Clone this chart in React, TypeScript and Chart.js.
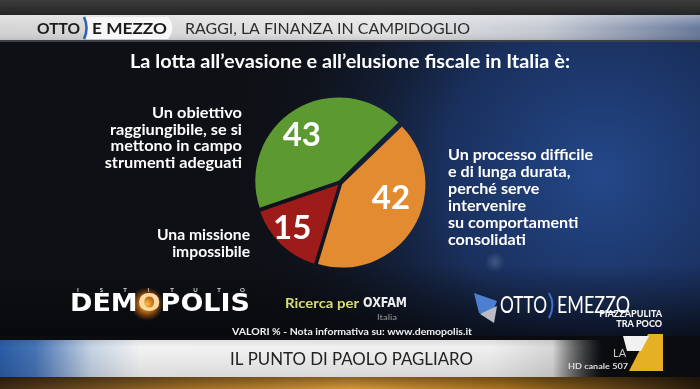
import React, { useEffect, useRef } from 'react';
import { Chart, registerables } from 'chart.js';

Chart.register(...registerables);

// ---------- data ----------
const categories = [
  'Un obiettivo raggiungibile, se si mettono in campo strumenti adeguati',
  'Un processo difficile e di lunga durata, perché serve intervenire su comportamenti consolidati',
  'Una missione impossibile',
];
const categoryLines = [
  ['Un obiettivo', 'raggiungibile, se si', 'mettono in campo', 'strumenti adeguati'],
  ['Un processo difficile', 'e di lunga durata,', 'perché serve', 'intervenire', 'su comportamenti', 'consolidati'],
  ['Una missione', 'impossibile'],
];
const values = [43, 42, 15];
const sliceColors = ['#5c9a31', '#e38b31', '#9d1c19'];

const chartTitle = 'La lotta all\u2019evasione e all\u2019elusione fiscale in Italia è:';
const bannerTopic = 'RAGGI, LA FINANZA IN CAMPIDOGLIO';
const bannerBottom = 'IL PUNTO DI PAOLO PAGLIARO';
const sourceNote = 'VALORI % - Nota informativa su: www.demopolis.it';

type TOpt = {
  font: string;
  color: string;
  align?: CanvasTextAlign;
  width?: number;
  sx?: number;
};

function drawText(ctx: CanvasRenderingContext2D, text: string, x: number, y: number, o: TOpt): number {
  ctx.save();
  ctx.font = o.font;
  ctx.fillStyle = o.color;
  ctx.textBaseline = 'middle';
  let sx = o.sx ?? 1;
  if (o.width) {
    const w = ctx.measureText(text).width;
    if (w > 0) sx = o.width / w;
  }
  ctx.translate(x, y);
  ctx.scale(sx, 1);
  ctx.textAlign = o.align || 'left';
  ctx.fillText(text, 0, 0);
  ctx.restore();
  return sx;
}

function measure(ctx: CanvasRenderingContext2D, text: string, font: string): number {
  ctx.save();
  ctx.font = font;
  const w = ctx.measureText(text).width;
  ctx.restore();
  return w;
}

function poly(ctx: CanvasRenderingContext2D, pts: number[][], fill: string | CanvasGradient) {
  ctx.beginPath();
  ctx.moveTo(pts[0][0], pts[0][1]);
  for (let i = 1; i < pts.length; i++) ctx.lineTo(pts[i][0], pts[i][1]);
  ctx.closePath();
  ctx.fillStyle = fill;
  ctx.fill();
}

const backgroundPlugin = {
  id: 'tvBackground',
  beforeDraw(chart: any) {
    const ctx: CanvasRenderingContext2D = chart.ctx;
    const W = chart.width;
    const H = chart.height;
    ctx.save();
    // base
    ctx.fillStyle = '#0e1015';
    ctx.fillRect(0, 0, W, H);
    // blue glow on the right
    const rg = ctx.createRadialGradient(600, 175, 0, 600, 175, 390);
    rg.addColorStop(0, 'rgba(36,72,138,1)');
    rg.addColorStop(0.4, 'rgba(27,52,102,0.9)');
    rg.addColorStop(0.8, 'rgba(16,22,36,0.35)');
    rg.addColorStop(1, 'rgba(14,16,21,0)');
    ctx.fillStyle = rg;
    ctx.fillRect(0, 40, W, 300);
    // darker logo band
    const lg = ctx.createLinearGradient(0, 265, 0, 340);
    lg.addColorStop(0, 'rgba(6,7,10,0)');
    lg.addColorStop(1, 'rgba(6,7,10,0.75)');
    ctx.fillStyle = lg;
    ctx.fillRect(0, 265, W, 75);
    // soft bokeh
    const bk = ctx.createRadialGradient(495, 262, 0, 495, 262, 10);
    bk.addColorStop(0, 'rgba(200,215,240,0.22)');
    bk.addColorStop(1, 'rgba(200,215,240,0)');
    ctx.fillStyle = bk;
    ctx.fillRect(480, 248, 30, 30);

    // top dark band
    const tg = ctx.createLinearGradient(0, 0, 0, 15);
    tg.addColorStop(0, '#3d3d3d');
    tg.addColorStop(1, '#242424');
    ctx.fillStyle = tg;
    ctx.fillRect(0, 0, W, 15);

    // top banner
    const bg = ctx.createLinearGradient(0, 0, W, 0);
    bg.addColorStop(0, '#d4d4d4');
    bg.addColorStop(0.55, '#e4e4e4');
    bg.addColorStop(0.78, '#c4c9d2');
    bg.addColorStop(1, '#67789a');
    ctx.fillStyle = bg;
    ctx.fillRect(0, 15, W, 26);
    const bv = ctx.createLinearGradient(0, 15, 0, 41);
    bv.addColorStop(0, 'rgba(255,255,255,0.35)');
    bv.addColorStop(0.5, 'rgba(255,255,255,0)');
    bv.addColorStop(1, 'rgba(0,0,0,0.12)');
    ctx.fillStyle = bv;
    ctx.fillRect(0, 15, W, 26);
    ctx.fillStyle = '#3c3f46';
    ctx.fillRect(0, 40, W, 2);
    // E MEZZO pill
    ctx.fillStyle = '#f7f7f7';
    ctx.beginPath();
    ctx.moveTo(86, 17);
    ctx.lineTo(168, 17);
    ctx.quadraticCurveTo(177, 28, 168, 39);
    ctx.lineTo(86, 39);
    ctx.quadraticCurveTo(90, 28, 86, 17);
    ctx.fill();
    // blue separator
    ctx.strokeStyle = '#2f63b8';
    ctx.lineWidth = 2.5;
    ctx.beginPath();
    ctx.moveTo(84, 17);
    ctx.quadraticCurveTo(89, 28, 84, 39);
    ctx.stroke();

    // bottom white banner
    const wb = ctx.createLinearGradient(0, 0, W, 0);
    wb.addColorStop(0, '#2a5ca6');
    wb.addColorStop(0.05, '#4673b4');
    wb.addColorStop(0.13, '#c6d3e4');
    wb.addColorStop(0.2, '#f3f3f3');
    wb.addColorStop(0.7, '#f0f0f0');
    wb.addColorStop(0.79, '#d6d6d6');
    wb.addColorStop(0.86, 'rgba(120,120,120,0)');
    ctx.fillStyle = '#0b0c10';
    ctx.fillRect(0, 336, W, 41);
    ctx.fillStyle = wb;
    ctx.fillRect(0, 340, W, 37);
    const wv = ctx.createLinearGradient(0, 340, 0, 377);
    wv.addColorStop(0, 'rgba(0,0,0,0.08)');
    wv.addColorStop(0.2, 'rgba(0,0,0,0)');
    wv.addColorStop(1, 'rgba(0,0,0,0.1)');
    ctx.fillStyle = wv;
    ctx.fillRect(0, 340, 600, 37);

    // golden glow at the bottom
    const gg = ctx.createLinearGradient(0, 0, W, 0);
    gg.addColorStop(0, '#3e2c16');
    gg.addColorStop(0.25, '#9a6a26');
    gg.addColorStop(0.5, '#d39636');
    gg.addColorStop(0.72, '#a5701f');
    gg.addColorStop(1, '#2a1d0e');
    ctx.fillStyle = gg;
    ctx.fillRect(0, 377, W, 12);
    const gv = ctx.createLinearGradient(0, 377, 0, 389);
    gv.addColorStop(0, 'rgba(0,0,0,0.35)');
    gv.addColorStop(1, 'rgba(0,0,0,0)');
    ctx.fillStyle = gv;
    ctx.fillRect(0, 377, W, 12);
    ctx.restore();
  },
};

const overlayPlugin = {
  id: 'tvOverlay',
  afterDatasetsDraw(chart: any, _args: any, opts: any) {
    const ctx: CanvasRenderingContext2D = chart.ctx;
    ctx.save();

    // ---- top banner texts
    drawText(ctx, 'OTTO', 37, 29, { font: '700 15px Lato', color: '#1b1b1b', width: 43 });
    drawText(ctx, 'E MEZZO', 92, 29, { font: '700 15px Lato', color: '#1b1b1b', width: 75 });
    drawText(ctx, bannerTopic, 185, 29, { font: '400 16px Lato', color: '#2b2b2b', width: 285 });

    // ---- chart title
    drawText(ctx, chartTitle, 130, 62, { font: '700 18px Lato', color: '#ffffff', width: 440 });

    // ---- value labels on slices
    const meta = chart.getDatasetMeta(0);
    const ds = chart.data.datasets[0];
    const off = ds.offset || 0;
    meta.data.forEach((arc: any, i: number) => {
      const p = arc.getProps(['x', 'y', 'startAngle', 'endAngle', 'outerRadius'], true);
      const mid = (p.startAngle + p.endAngle) / 2;
      const cx = p.x + Math.cos(mid) * off;
      const cy = p.y + Math.sin(mid) * off;
      const pl = opts.valuePlacement[i];
      const a = mid + (pl.shift * Math.PI) / 180;
      const lx = cx + Math.cos(a) * p.outerRadius * pl.f;
      const ly = cy + Math.sin(a) * p.outerRadius * pl.f;
      drawText(ctx, String(ds.data[i]), lx, ly + 1, { font: '700 33px Lato', color: '#ffffff', align: 'center' });
    });

    // ---- category labels
    chart.data.labels.forEach((_l: any, i: number) => {
      const lines = categoryLines[i];
      const b = opts.labelBlocks[i];
      const font = '700 15.5px Lato';
      const sx = b.firstWidth / measure(ctx, lines[0], font);
      lines.forEach((ln: string, k: number) => {
        drawText(ctx, ln, b.x, b.y + k * b.lh, { font, color: '#ffffff', align: b.align, sx });
      });
    });

    // ---- DEMOPOLIS logo
    const letters = 'ISTITUTO'.split('');
    letters.forEach((c, k) => {
      drawText(ctx, c, 78 + k * 23.5, 290, { font: '700 6px Lato', color: '#d8d8d8', align: 'center' });
    });
    const glow = ctx.createRadialGradient(147, 304, 0, 147, 304, 17);
    glow.addColorStop(0, 'rgba(255,190,70,1)');
    glow.addColorStop(0.5, 'rgba(240,130,20,0.7)');
    glow.addColorStop(1, 'rgba(200,90,0,0)');
    ctx.fillStyle = glow;
    ctx.fillRect(128, 285, 38, 38);
    const dFont = '700 25px "DejaVu Sans"';
    const dsx = 180 / measure(ctx, 'DEMOPOLIS', dFont);
    const wDEM = measure(ctx, 'DEM', dFont) * dsx;
    const wO = measure(ctx, 'O', dFont) * dsx;
    drawText(ctx, 'DEM', 70, 304, { font: dFont, color: '#ffffff', sx: dsx });
    drawText(ctx, 'O', 70 + wDEM, 304, { font: dFont, color: '#ffd9a0', sx: dsx });
    drawText(ctx, 'POLIS', 70 + wDEM + wO, 304, { font: dFont, color: '#ffffff', sx: dsx });

    // ---- Ricerca per OXFAM
    drawText(ctx, 'Ricerca per', 285, 303, { font: '700 14px Lato', color: '#d8dd78', width: 74 });
    drawText(ctx, 'OXFAM', 363, 303, { font: '700 14px "DejaVu Sans"', color: '#eeeeee', width: 44 });
    drawText(ctx, 'Italia', 377, 318, { font: '400 7px Lato', color: '#9a9a9a', width: 20 });
    drawText(ctx, sourceNote, 232, 332, { font: '700 10px Lato', color: '#f2f2f2', width: 240 });

    // ---- OTTO E MEZZO logo
    poly(ctx, [[474, 293], [497, 301], [491, 316], [479, 313]], '#4c7fd0');
    poly(ctx, [[480, 314], [497, 306], [494, 323]], '#b9bcc4');
    drawText(ctx, 'OTTO', 500, 305, { font: '400 24px Lato', color: '#ffffff', width: 47 });
    ctx.strokeStyle = '#3a6fd0';
    ctx.lineWidth = 2;
    ctx.beginPath();
    ctx.moveTo(549, 293);
    ctx.quadraticCurveTo(556, 305, 549, 318);
    ctx.stroke();
    drawText(ctx, 'EMEZZO', 557, 305, { font: '400 24px Lato', color: '#ffffff', width: 73 });
    drawText(ctx, 'PIAZZAPULITA', 662, 314, { font: '900 9px Lato', color: '#f4f4f4', align: 'right', sx: 1 });
    drawText(ctx, 'TRA POCO', 662, 324, { font: '900 9px Lato', color: '#f4f4f4', align: 'right' });

    // ---- bottom banner text
    drawText(ctx, bannerBottom, 230, 359, { font: '400 18px Lato', color: '#222222', width: 243 });

    // ---- LA7 logo
    drawText(ctx, 'LA', 613, 353, { font: '400 11px Lato', color: '#c9c9c9' });
    poly(ctx, [[648, 334], [663, 334], [663, 371], [629, 371]], '#e6b024');
    poly(ctx, [[623, 336], [649, 336], [641, 351], [627, 351]], '#f1f1f1');
    drawText(ctx, 'HD canale 507', 568, 366, { font: '700 8px Lato', color: '#dedede', width: 60 });

    ctx.restore();
  },
};

export default function App() {
  const ref = useRef<HTMLCanvasElement | null>(null);
  useEffect(() => {
    document.body.style.margin = '0';
    const canvas = ref.current;
    if (!canvas) return;
    const chart = new Chart(canvas, {
      type: 'pie',
      data: {
        labels: categories,
        datasets: [
          {
            data: values,
            backgroundColor: sliceColors,
            borderWidth: 0,
            offset: 10,
            hoverOffset: 0,
          },
        ],
      },
      options: {
        responsive: true,
        maintainAspectRatio: false,
        animation: false,
        events: [],
        rotation: 251,
        layout: { padding: { left: 253, right: 273, top: 96, bottom: 119 } },
        plugins: {
          legend: { display: false },
          tooltip: { enabled: false },
          title: { display: false },
          tvOverlay: {
            valuePlacement: [
              { shift: -8, f: 0.63 },
              { shift: -19, f: 0.53 },
              { shift: 4, f: 0.67 },
            ],
            labelBlocks: [
              { x: 242, y: 113, lh: 16.5, align: 'right', firstWidth: 90 },
              { x: 448, y: 155, lh: 17, align: 'left', firstWidth: 145 },
              { x: 250, y: 235, lh: 17, align: 'right', firstWidth: 93 },
            ],
          },
        } as any,
      },
      plugins: [backgroundPlugin, overlayPlugin],
    });
    return () => chart.destroy();
  }, []);
  return (
    <div style={{ position: 'absolute', left: 0, top: 0, width: 700, height: 389, overflow: 'hidden' }}>
      <canvas ref={ref} />
    </div>
  );
}
